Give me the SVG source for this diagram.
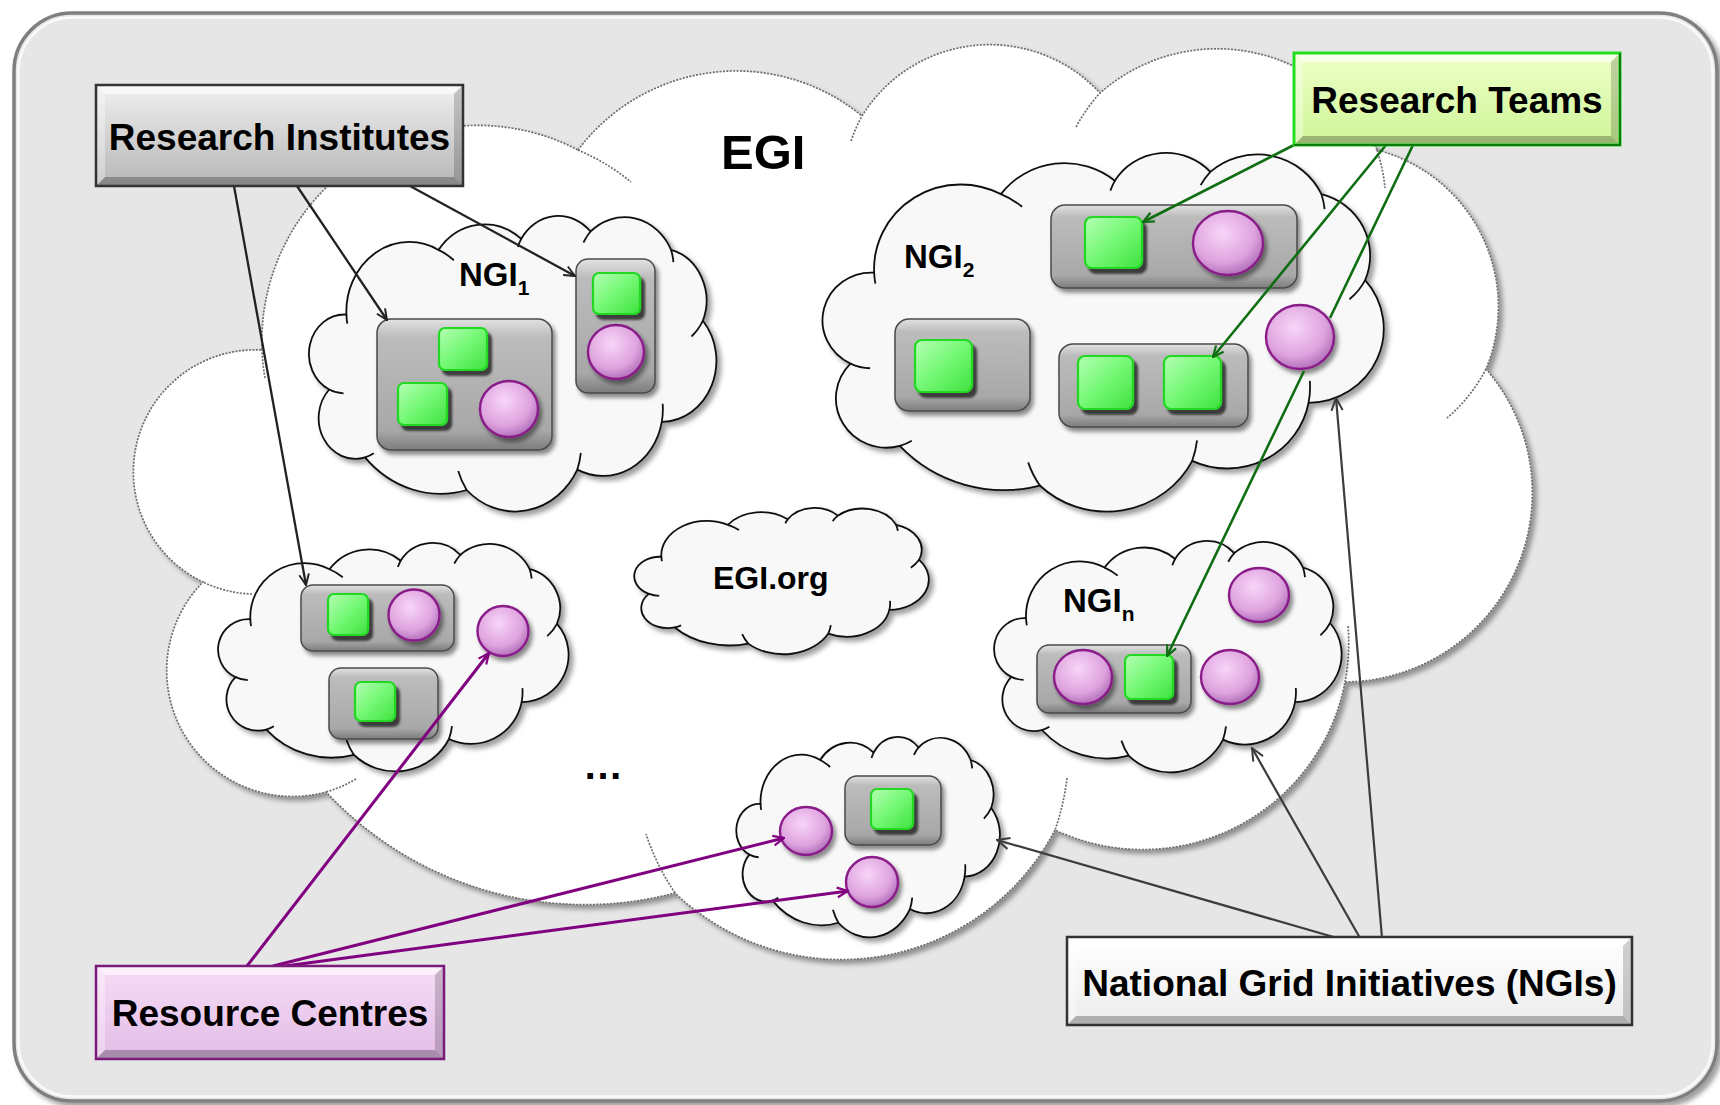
<svg xmlns="http://www.w3.org/2000/svg" xmlns:xlink="http://www.w3.org/1999/xlink" width="1720" height="1105" viewBox="0 0 1720 1105">
<style>
text{font-family:"Liberation Sans",Arial,Helvetica,sans-serif;font-weight:bold;fill:#000}
.nc{fill:#f8f8f8;stroke:#111;stroke-width:1.8}
.cb{fill:url(#gBox);stroke:#4a4a4a;stroke-width:1.5;filter:url(#sh2)}
.gs{fill:url(#gGreen);stroke:#22d822;stroke-width:2.2;filter:url(#sh3)}
.pc{fill:url(#gPurp);stroke:#8a1e8a;stroke-width:2.4;filter:url(#sh2)}
.lb{font-size:33px}
.bt{fill:#fff;opacity:.6}
.bl{fill:#fff;opacity:.35}
.br{fill:#000;opacity:.18}
.bb{fill:#000;opacity:.26}
.ck{fill:none;stroke:#222;stroke-width:2.3}
.cg{fill:none;stroke:#0f6e12;stroke-width:2.6}
.cp{fill:none;stroke:#800080;stroke-width:3}
.cn{fill:none;stroke:#3c3c3c;stroke-width:2.2}
.big{fill:#fff;stroke:#6e6e6e;stroke-width:1.7;stroke-dasharray:2 1.4}
.tail{fill:none;stroke:#6e6e6e;stroke-width:1.7;stroke-dasharray:2 1.4}
</style>
<defs>
<filter id="sh" x="-10%" y="-10%" width="130%" height="130%"><feDropShadow dx="4" dy="4" stdDeviation="2.5" flood-color="#000" flood-opacity="0.38"/></filter>
<filter id="sh2" x="-20%" y="-20%" width="150%" height="150%"><feDropShadow dx="3" dy="4" stdDeviation="2" flood-color="#000" flood-opacity="0.45"/></filter>
<filter id="sh3" x="-20%" y="-20%" width="150%" height="150%"><feDropShadow dx="4" dy="5" stdDeviation="1" flood-color="#222" flood-opacity="0.8"/></filter>
<linearGradient id="gBox" x1="0" y1="0" x2="0" y2="1"><stop offset="0" stop-color="#e2e2e2"/><stop offset="0.14" stop-color="#bcbcbc"/><stop offset="0.85" stop-color="#a8a8a8"/><stop offset="1" stop-color="#7c7c7c"/></linearGradient>
<linearGradient id="gGreen" x1="0" y1="0" x2="1" y2="1"><stop offset="0" stop-color="#b4ffb4"/><stop offset="0.5" stop-color="#74f874"/><stop offset="1" stop-color="#3fe23f"/></linearGradient>
<radialGradient id="gPurp" cx="0.42" cy="0.35" r="0.65"><stop offset="0" stop-color="#f8d6f8"/><stop offset="0.7" stop-color="#dea2de"/><stop offset="1" stop-color="#b472bc"/></radialGradient>
<linearGradient id="gRI" x1="0" y1="0" x2="0" y2="1"><stop offset="0" stop-color="#f0f0f0"/><stop offset="1" stop-color="#b6b6b6"/></linearGradient>
<linearGradient id="gRT" x1="0" y1="0" x2="0" y2="1"><stop offset="0" stop-color="#eeffc8"/><stop offset="1" stop-color="#cef598"/></linearGradient>
<linearGradient id="gRC" x1="0" y1="0" x2="0" y2="1"><stop offset="0" stop-color="#f6dcf6"/><stop offset="1" stop-color="#e2bce6"/></linearGradient>
<linearGradient id="gNG" x1="0" y1="0" x2="0" y2="1"><stop offset="0" stop-color="#ffffff"/><stop offset="1" stop-color="#ececec"/></linearGradient>
<marker id="aK" viewBox="0 0 12 12" refX="11" refY="6" markerWidth="13" markerHeight="13" markerUnits="userSpaceOnUse" orient="auto"><path d="M1,1.5 L11,6 L1,10.5" fill="none" stroke="#222" stroke-width="1.8"/></marker>
<marker id="aG" viewBox="0 0 12 12" refX="11" refY="6" markerWidth="13" markerHeight="13" markerUnits="userSpaceOnUse" orient="auto"><path d="M1,1.5 L11,6 L1,10.5" fill="none" stroke="#0f6e12" stroke-width="2"/></marker>
<marker id="aP" viewBox="0 0 12 12" refX="11" refY="6" markerWidth="13" markerHeight="13" markerUnits="userSpaceOnUse" orient="auto"><path d="M1,1.5 L11,6 L1,10.5" fill="none" stroke="#800080" stroke-width="2"/></marker>
<marker id="aN" viewBox="0 0 12 12" refX="11" refY="6" markerWidth="15" markerHeight="15" markerUnits="userSpaceOnUse" orient="auto"><path d="M1,1.5 L11,6 L1,10.5" fill="none" stroke="#3c3c3c" stroke-width="1.6"/></marker>
<path id="cloudT" vector-effect="non-scaling-stroke" d="M314.8 115 A141.3 216.9 0 0 1 517.5 77.8 A107.1 164.3 0 0 1 687.4 52.6 A126.3 193.9 0 0 1 885.1 115 A115.6 177.4 0 0 1 962.9 354.9 A134.9 207 0 0 1 862.2 697.7 A147 225.6 0 0 1 655.2 859.8 A172 264 0 0 1 384 928.8 A252.7 387.7 0 0 1 134.9 818.2 A89.9 138 0 0 1 47.1 588.2 A87.1 133.6 0 0 1 89.2 334.1 A154.2 236.6 0 0 1 314.8 115 Z"/>
<path id="cloudTails" fill="none" vector-effect="non-scaling-stroke" d="M314.8 115 A154.2 236.6 0 0 1 352.6 150.1 M509.6 105.1 A107.1 164.3 0 0 1 517.5 77.8 M670.2 89.8 A126.3 193.9 0 0 1 687.4 52.6 M885.1 115 A126.3 193.9 0 0 1 890.8 156.6 M962.9 354.9 A115.6 177.4 0 0 1 935 408.5 M864.4 636.4 A147 225.6 0 0 1 862.2 697.7 M663.8 802.8 A172 264 0 0 1 655.2 859.8 M384 928.8 A172 264 0 0 1 363.3 864.2 M156.3 803.9 A89.9 138 0 0 1 134.9 818.2 M82.1 601.3 A87.1 133.6 0 0 1 47.1 588.2 M91.4 364.7 A154.2 236.6 0 0 1 89.2 334.1"/>
</defs>

<rect width="1720" height="1105" fill="#fff"/>
<g id="panel">
<rect x="14" y="13" width="1703" height="1088" rx="58" fill="#e6e6e6" stroke="#7f7f7f" stroke-width="3.5" filter="url(#sh)"/>
<rect x="18.5" y="17.5" width="1694" height="1079" rx="54" fill="none" stroke="#fafafa" stroke-width="2.5"/>
</g>

<g id="egi">
<path class="big" filter="url(#sh)" d="M578 150 A198 198 0 0 1 862 116 A150 150 0 0 1 1100 93 A177 177 0 0 1 1377 150 A162 162 0 0 1 1486 369 A189 189 0 0 1 1345 682 A206 206 0 0 1 1055 830 A241 241 0 0 1 675 893 A354 354 0 0 1 326 792 A126 126 0 0 1 203 582 A122 122 0 0 1 262 350 A216 216 0 0 1 578 150 Z"/>
<path class="tail" d="M578 150 A216 216 0 0 1 631 182 M851 141 A150 150 0 0 1 862 116 M1076 127 A177 177 0 0 1 1100 93 M1377 150 A177 177 0 0 1 1385 188 M1486 369 A162 162 0 0 1 1447 418 M1348 626 A206 206 0 0 1 1345 682 M1067 778 A241 241 0 0 1 1055 830 M675 893 A241 241 0 0 1 646 834 M356 779 A126 126 0 0 1 326 792 M252 594 A122 122 0 0 1 203 582 M265 378 A216 216 0 0 1 262 350"/>
<text x="721" y="169" font-size="49">EGI</text>
<text x="583" y="779" font-size="40">…</text>
</g>

<g id="ngi1">
<g filter="url(#sh)"><use href="#cloudT" class="nc" transform="translate(310,216) scale(0.408,0.295)"/></g>
<use href="#cloudTails" class="nc" transform="translate(310,216) scale(0.408,0.295)"/>
<rect class="cb" x="377" y="319" width="175" height="131" rx="14"/>
<rect class="gs" x="439" y="328" width="48" height="42" rx="6"/>
<rect class="gs" x="398" y="383" width="49" height="42" rx="6"/>
<ellipse class="pc" cx="509" cy="409" rx="29" ry="28"/>
<rect class="cb" x="576" y="259" width="79" height="134" rx="12"/>
<rect class="gs" x="593" y="273" width="47" height="41" rx="6"/>
<ellipse class="pc" cx="616" cy="352" rx="28" ry="27"/>
<text x="459" y="286" class="lb">NGI<tspan font-size="21" dy="9">1</tspan></text>
</g>

<g id="ngi2">
<g filter="url(#sh)"><use href="#cloudT" class="nc" transform="translate(824,153) scale(0.562,0.358)"/></g>
<use href="#cloudTails" class="nc" transform="translate(824,153) scale(0.562,0.358)"/>
<rect class="cb" x="1051" y="205" width="246" height="83" rx="14"/>
<rect class="gs" x="1085" y="217" width="57" height="51" rx="7"/>
<ellipse class="pc" cx="1228" cy="243" rx="35" ry="32"/>
<rect class="cb" x="895" y="319" width="135" height="92" rx="14"/>
<rect class="gs" x="915" y="340" width="57" height="52" rx="7"/>
<rect class="cb" x="1059" y="344" width="189" height="83" rx="14"/>
<rect class="gs" x="1078" y="356" width="55" height="53" rx="7"/>
<rect class="gs" x="1164" y="356" width="57" height="53" rx="7"/>
<ellipse class="pc" cx="1300" cy="337" rx="34" ry="32"/>
<text x="904" y="268" class="lb">NGI<tspan font-size="21" dy="9">2</tspan></text>
</g>

<g id="ngi-left">
<g filter="url(#sh)"><use href="#cloudT" class="nc" transform="translate(219,543) scale(0.351,0.228)"/></g>
<use href="#cloudTails" class="nc" transform="translate(219,543) scale(0.351,0.228)"/>
<rect class="cb" x="301" y="585" width="153" height="66" rx="12"/>
<rect class="gs" x="328" y="594" width="40" height="41" rx="6"/>
<ellipse class="pc" cx="414" cy="615" rx="25.5" ry="25.5"/>
<ellipse class="pc" cx="503" cy="631" rx="25.5" ry="25"/>
<rect class="cb" x="329" y="668" width="109" height="71" rx="12"/>
<rect class="gs" x="355" y="682" width="40" height="39" rx="6"/>
</g>

<g id="egi-org">
<g filter="url(#sh)"><use href="#cloudT" class="nc" transform="translate(635,508) scale(0.295,0.146)"/></g>
<use href="#cloudTails" class="nc" transform="translate(635,508) scale(0.295,0.146)"/>
<text x="713" y="589" font-size="32">EGI.org</text>
</g>

<g id="ngin">
<g filter="url(#sh)"><use href="#cloudT" class="nc" transform="translate(995,541) scale(0.348,0.231)"/></g>
<use href="#cloudTails" class="nc" transform="translate(995,541) scale(0.348,0.231)"/>
<rect class="cb" x="1037" y="645" width="154" height="68" rx="12"/>
<ellipse class="pc" cx="1083" cy="677" rx="29" ry="27"/>
<rect class="gs" x="1125" y="655" width="48" height="44" rx="6"/>
<ellipse class="pc" cx="1230" cy="677" rx="29" ry="27"/>
<ellipse class="pc" cx="1259" cy="595" rx="30" ry="27"/>
<text x="1063" y="612" class="lb">NGI<tspan font-size="21" dy="9">n</tspan></text>
</g>

<g id="ngi-bottom">
<g filter="url(#sh)"><use href="#cloudT" class="nc" transform="translate(737,737) scale(0.264,0.200)"/></g>
<use href="#cloudTails" class="nc" transform="translate(737,737) scale(0.264,0.200)"/>
<rect class="cb" x="845" y="776" width="96" height="69" rx="12"/>
<rect class="gs" x="871" y="789" width="42" height="40" rx="6"/>
<ellipse class="pc" cx="806" cy="831" rx="26" ry="24"/>
<ellipse class="pc" cx="872" cy="882" rx="26" ry="25"/>
</g>

<g id="connectors">
<path class="ck" marker-end="url(#aK)" d="M234 186 L306 585"/>
<path class="ck" marker-end="url(#aK)" d="M297 186 L387 320"/>
<path class="ck" marker-end="url(#aK)" d="M410 186 L575 276"/>
<path class="cg" marker-end="url(#aG)" d="M1294 145 L1143 222"/>
<path class="cg" marker-end="url(#aG)" d="M1386 145 L1213 357"/>
<path class="cg" marker-end="url(#aG)" d="M1413 145 L1330 318 M1304 371 L1167 656"/>
<path class="cp" marker-end="url(#aP)" d="M247 966 L489 653"/>
<path class="cp" marker-end="url(#aP)" d="M273 966 L784 838"/>
<path class="cp" marker-end="url(#aP)" d="M285 966 L848 891"/>
<path class="cn" marker-end="url(#aN)" d="M1337 938 L997 840"/>
<path class="cn" marker-end="url(#aN)" d="M1360 938 L1252 748"/>
<path class="cn" marker-end="url(#aN)" d="M1382 938 L1336 398"/>
</g>

<g id="research-institutes">
<rect x="96" y="85" width="367" height="101" fill="url(#gRI)"/>
<polygon class="bt" points="96,85 463,85 454,94 105,94"/>
<polygon class="bl" points="96,85 105,94 105,177 96,186"/>
<polygon class="br" points="463,85 463,186 454,177 454,94"/>
<polygon class="bb" points="96,186 105,177 454,177 463,186"/>
<rect x="96" y="85" width="367" height="101" fill="none" stroke="#333" stroke-width="2.5"/>
<text x="279.5" y="150" font-size="37" text-anchor="middle">Research Institutes</text>
</g>

<g id="research-teams">
<rect x="1294" y="53" width="326" height="92" fill="url(#gRT)"/>
<polygon class="bt" points="1294,53 1620,53 1611,62 1303,62"/>
<polygon class="bl" points="1294,53 1303,62 1303,136 1294,145"/>
<polygon class="br" points="1620,53 1620,145 1611,136 1611,62"/>
<polygon class="bb" points="1294,145 1303,136 1611,136 1620,145"/>
<rect x="1294" y="53" width="326" height="92" fill="none" stroke="#22dd22" stroke-width="3"/>
<path d="M1620 53 V145 H1294" fill="none" stroke="#0a7a0a" stroke-width="2"/>
<text x="1457" y="113" font-size="37" text-anchor="middle">Research Teams</text>
</g>

<g id="resource-centres">
<rect x="96" y="966" width="348" height="93" fill="url(#gRC)"/>
<polygon class="bt" points="96,966 444,966 435,975 105,975"/>
<polygon class="bl" points="96,966 105,975 105,1050 96,1059"/>
<polygon class="br" points="444,966 444,1059 435,1050 435,975"/>
<polygon class="bb" points="96,1059 105,1050 435,1050 444,1059"/>
<rect x="96" y="966" width="348" height="93" fill="none" stroke="#7a1a7a" stroke-width="2.5"/>
<text x="270" y="1026" font-size="37" text-anchor="middle">Resource Centres</text>
</g>

<g id="ngis">
<rect x="1067" y="937" width="565" height="88" fill="url(#gNG)"/>
<polygon class="bt" points="1067,937 1632,937 1623,946 1076,946"/>
<polygon class="bl" points="1067,937 1076,946 1076,1016 1067,1025"/>
<polygon class="br" points="1632,937 1632,1025 1623,1016 1623,946"/>
<polygon class="bb" points="1067,1025 1076,1016 1623,1016 1632,1025"/>
<rect x="1067" y="937" width="565" height="88" fill="none" stroke="#333" stroke-width="2.5"/>
<text x="1349.5" y="996" font-size="37" text-anchor="middle">National Grid Initiatives (NGIs)</text>
</g>
</svg>
